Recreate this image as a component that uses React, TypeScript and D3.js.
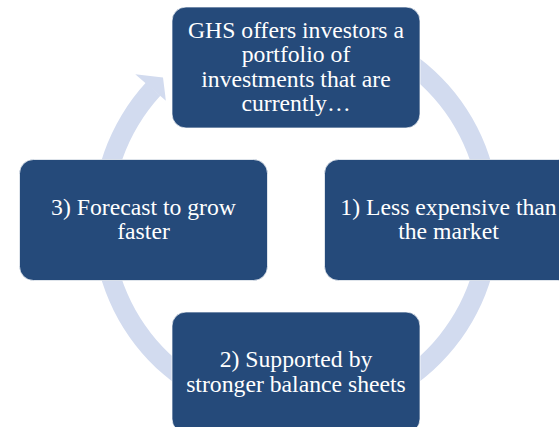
import React, { useRef, useEffect } from 'react';
import * as d3 from 'd3';

// box labels, top then clockwise
const boxLabels: string[][] = [
  ['GHS offers investors a', 'portfolio of', 'investments that are', 'currently…'],
  ['1) Less expensive than', 'the market'],
  ['2) Supported by', 'stronger balance sheets'],
  ['3) Forecast to grow', 'faster'],
];
const boxAngles = [0, 90, 180, 270];

// ring: start/end of the circular arrow, in degrees clockwise from top
const ringStart = 37;
const ringEnd = 312.5;
const arrowTip = 317;

const App = () => {
  const svgRef = useRef<SVGSVGElement>(null);

  useEffect(() => {
    const width = 559;
    const height = 427;
    const cx = 296;
    const cy = 220;
    const orbit = 152.5;
    const boxW = 248;
    const boxH = 121;
    const fontSize = 23.7;
    const lineH = 24.3;

    const svg = d3.select(svgRef.current)
      .attr('width', width)
      .attr('height', height)
      .attr('viewBox', [0, 0, width, height]);

    svg.selectAll('*').remove();

    const rad = d3.scaleLinear().domain([0, 360]).range([0, 2 * Math.PI]);
    const polar = (deg: number, r: number): [number, number] => [
      cx + r * Math.sin(rad(deg)),
      cy - r * Math.cos(rad(deg)),
    ];

    const g = svg.append('g');

    // ring body
    const arc = d3.arc()
      .innerRadius(184)
      .outerRadius(203.5)
      .startAngle(rad(ringStart))
      .endAngle(rad(ringEnd));

    g.append('path')
      .attr('transform', `translate(${cx},${cy})`)
      .attr('d', arc({} as any) as string)
      .attr('fill', '#d2dbef');

    // arrow head
    const head = [polar(ringEnd, 176.5), polar(arrowTip, 195), polar(ringEnd - 0.3, 217)];
    g.append('path')
      .attr('d', d3.line()(head) + 'Z')
      .attr('fill', '#d2dbef');

    // boxes
    const boxes = g.selectAll('g.box')
      .data(boxLabels)
      .join('g')
      .attr('class', 'box')
      .attr('transform', (d, i) => {
        const [x, y] = polar(boxAngles[i], orbit);
        return `translate(${x},${y})`;
      });

    boxes.append('rect')
      .attr('x', -boxW / 2)
      .attr('y', -boxH / 2)
      .attr('width', boxW)
      .attr('height', boxH)
      .attr('rx', 14)
      .attr('fill', '#254a7a')
      .attr('stroke', '#ffffff')
      .attr('stroke-opacity', 0.7)
      .attr('stroke-width', 1);

    boxes.append('text')
      .attr('text-anchor', 'middle')
      .style('font-family', "'Liberation Serif', 'Times New Roman', serif")
      .style('font-size', `${fontSize}px`)
      .attr('fill', '#ffffff')
      .selectAll('tspan')
      .data(d => d.map((t, k) => ({ t, k, n: d.length })))
      .join('tspan')
      .attr('x', 0)
      .attr('y', d => (d.k - (d.n - 1) / 2) * lineH + fontSize * 0.3)
      .text(d => d.t);
  }, []);

  return (
    <div style={{ position: 'absolute', left: 0, top: 0, width: 559, height: 427, overflow: 'hidden', background: '#fff' }}>
      <svg ref={svgRef} style={{ display: 'block' }}></svg>
    </div>
  );
};

export default App;
